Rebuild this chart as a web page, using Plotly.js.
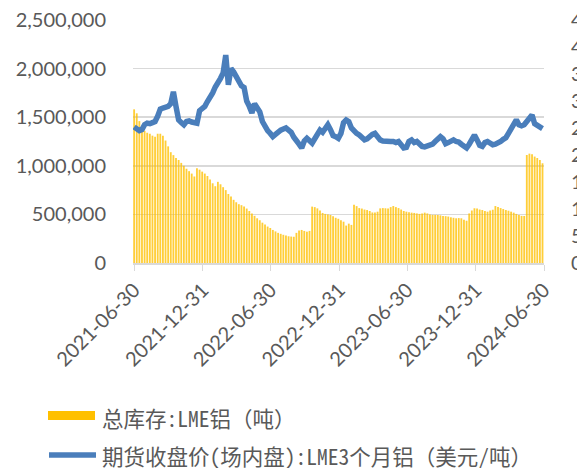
<!DOCTYPE html>
<html>
<head>
<meta charset="utf-8">
<script src="https://cdn.plot.ly/plotly-3.0.1.min.js"></script>
<style>
  html, body { margin: 0; padding: 0; background: #fff; }
  #chart { width: 577px; height: 468px; }
</style>
</head>
<body>
<div id="chart"></div>
<script>
// 週度數據，起始 2021-06-30
const startDate = '2021-06-30';

// 總庫存: LME 鋁（千噸）
const stockK = [
  1581, 1540, 1460, 1390, 1360, 1340, 1330, 1310, 1300, 1330,
  1330, 1310, 1260, 1200, 1140, 1110, 1080, 1060, 1030, 1000,
  970, 945, 920, 890, 975, 960, 940, 920, 895, 860,
  820, 790, 835, 810, 780, 750, 710, 685, 650, 625,
  605, 595, 580, 560, 535, 510, 485, 460, 440, 415,
  395, 375, 360, 340, 325, 310, 300, 290, 282, 275,
  272, 270, 310, 335, 340, 330, 322, 330, 580, 575,
  562, 540, 515, 505, 500, 494, 480, 465, 455, 440,
  425, 385, 405, 392, 598, 585, 565, 560, 550, 545,
  535, 520, 520, 528, 562, 565, 563, 560, 575, 586,
  575, 565, 550, 535, 528, 522, 518, 515, 510, 505,
  510, 518, 510, 500, 495, 495, 494, 490, 484, 482,
  478, 470, 465, 460, 462, 460, 445, 435, 510, 540,
  563, 560, 550, 545, 535, 528, 540, 548, 586, 575,
  565, 555, 545, 538, 528, 518, 505, 495, 485, 484,
  1111, 1125, 1120, 1095, 1080, 1060, 1026
];

// 期貨收盤價: LME 3個月鋁（美元/噸）
const price = [
  2519, 2480, 2450, 2470, 2560, 2590, 2580, 2600, 2620, 2720,
  2850, 2870, 2880, 2900, 2950, 3170, 2900, 2650, 2600, 2560,
  2620, 2630, 2610, 2600, 2590, 2820, 2850, 2900, 2990, 3050,
  3150, 3260, 3330, 3420, 3520, 3850, 3300, 3600, 3540, 3450,
  3380, 3280, 3250, 3000, 2900, 2780, 2950, 2880, 2800, 2620,
  2520, 2450, 2400, 2340, 2380, 2430, 2460, 2480, 2500, 2460,
  2420, 2330, 2280, 2200, 2130, 2260, 2310, 2250, 2220, 2300,
  2400, 2460, 2420, 2500, 2560, 2470, 2360, 2340, 2310, 2400,
  2600, 2650, 2620, 2500, 2430, 2400, 2370, 2330, 2280, 2300,
  2350, 2380, 2400, 2320, 2280, 2260, 2250, 2240, 2250, 2250,
  2230, 2250, 2180, 2130, 2140, 2250, 2280, 2230, 2250, 2200,
  2160, 2150, 2160, 2170, 2200, 2250, 2300, 2340, 2300, 2210,
  2230, 2260, 2280, 2250, 2240, 2200, 2150, 2130, 2200, 2300,
  2370, 2280, 2180, 2160, 2230, 2250, 2210, 2190, 2200, 2220,
  2250, 2290, 2320, 2400, 2470, 2560, 2650, 2560, 2540, 2560,
  2620, 2700, 2740, 2580, 2540, 2510, 2490
];

const tickDates = ['2021-06-30', '2021-12-31', '2022-06-30', '2022-12-31', '2023-06-30', '2023-12-31', '2024-06-30'];
const legendNames = ['总库存:LME铝（吨）', '期货收盘价(场内盘):LME3个月铝（美元/吨）'];

// 日期軸
const dates = stockK.map((_, i) => {
  const d = new Date(startDate + 'T00:00:00Z');
  d.setUTCDate(d.getUTCDate() + 7 * i);
  return d.toISOString().slice(0, 10);
});
const stock = stockK.map(v => v * 1000);

const GREY = '#595959';
const GRID = '#d9d9d9';
const LEGEND_FONT = '"Noto Sans Mono CJK SC", "Noto Sans CJK SC", monospace';

// 像素轉 paper 座標（繪圖區 133..544 x 20..263）
const px = x => (x - 133) / 411;
const py = y => (263 - y) / 243;

const traceBar = {
  x: dates,
  y: stock,
  type: 'bar',
  name: legendNames[0],
  marker: { color: 'rgba(255,192,0,0.78)', line: { width: 0 } },
  yaxis: 'y',
  hoverinfo: 'x+y'
};

const traceLine = {
  x: dates,
  y: price,
  type: 'scatter',
  mode: 'lines',
  name: legendNames[1],
  line: { color: '#4A7EBB', width: 5.5 },
  yaxis: 'y2',
  hoverinfo: 'x+y'
};

const layout = {
  width: 577,
  height: 468,
  margin: { l: 133, r: 33, t: 20, b: 205 },
  paper_bgcolor: '#fff',
  plot_bgcolor: '#fff',
  showlegend: false,
  bargap: 0.3,
  font: { family: 'Lato, "Noto Sans CJK SC", sans-serif', color: GREY, size: 20 },
  xaxis: {
    type: 'date',
    range: ['2021-06-27', '2024-06-30'],
    tickvals: tickDates,
    ticktext: tickDates,
    tickangle: -45,
    ticks: 'outside',
    ticklen: 6,
    tickcolor: GRID,
    showline: true,
    linecolor: GRID,
    linewidth: 1.5,
    showgrid: false,
    tickfont: { size: 20, color: GREY }
  },
  yaxis: {
    range: [0, 2500000],
    dtick: 500000,
    tickformat: ',d',
    showgrid: true,
    gridcolor: GRID,
    gridwidth: 1.5,
    zeroline: false,
    ticklabelstandoff: 26,
    tickfont: { size: 20, color: GREY }
  },
  yaxis2: {
    overlaying: 'y',
    side: 'right',
    range: [0, 4500],
    dtick: 500,
    tickformat: ',d',
    showgrid: false,
    zeroline: false,
    ticklabelstandoff: 26,
    tickfont: { size: 20, color: GREY }
  },
  shapes: [
    { type: 'rect', xref: 'paper', yref: 'paper', x0: px(48), x1: px(95), y0: py(420), y1: py(411),
      fillcolor: '#FFC000', line: { width: 0 } },
    { type: 'line', xref: 'paper', yref: 'paper', x0: px(49), x1: px(96), y0: py(455), y1: py(455),
      line: { color: '#4A7EBB', width: 5.5 } }
  ],
  annotations: [
    { xref: 'paper', yref: 'paper', x: px(100), y: py(417), xanchor: 'left', yanchor: 'middle',
      text: legendNames[0], showarrow: false, font: { family: LEGEND_FONT, size: 21.5, color: GREY } },
    { xref: 'paper', yref: 'paper', x: px(100), y: py(455), xanchor: 'left', yanchor: 'middle',
      text: legendNames[1], showarrow: false, font: { family: LEGEND_FONT, size: 21.5, color: GREY } }
  ]
};

Plotly.newPlot('chart', [traceBar, traceLine], layout, { displayModeBar: false, staticPlot: true });
</script>
</body>
</html>
